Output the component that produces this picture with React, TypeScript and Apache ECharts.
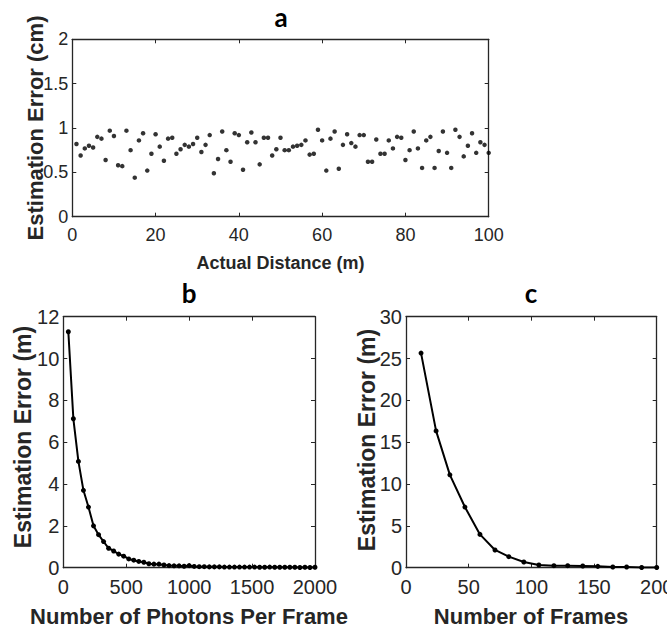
import React, { useEffect, useRef } from "react";
import * as echarts from "echarts";

// Panel a: estimation error (cm) vs actual distance (m)
const distances = [
  1, 2, 3, 4, 5, 6, 7, 8, 9, 10, 11, 12, 13, 14, 15, 16, 17, 18, 19, 20,
  21, 22, 23, 24, 25, 26, 27, 28, 29, 30, 31, 32, 33, 34, 35, 36, 37, 38, 39, 40,
  41, 42, 43, 44, 45, 46, 47, 48, 49, 50, 51, 52, 53, 54, 55, 56, 57, 58, 59, 60,
  61, 62, 63, 64, 65, 66, 67, 68, 69, 70, 71, 72, 73, 74, 75, 76, 77, 78, 79, 80,
  81, 82, 83, 84, 85, 86, 87, 88, 89, 90, 91, 92, 93, 94, 95, 96, 97, 98, 99, 100,
];
const errorsCm = [
  0.82, 0.69, 0.77, 0.8, 0.78, 0.9, 0.88, 0.64, 0.97, 0.91,
  0.58, 0.57, 0.97, 0.75, 0.44, 0.86, 0.94, 0.52, 0.71, 0.93,
  0.79, 0.63, 0.88, 0.89, 0.71, 0.76, 0.81, 0.79, 0.82, 0.89,
  0.73, 0.81, 0.92, 0.49, 0.65, 0.96, 0.75, 0.62, 0.94, 0.92,
  0.53, 0.84, 0.95, 0.84, 0.59, 0.89, 0.89, 0.69, 0.76, 0.89,
  0.75, 0.75, 0.79, 0.8, 0.81, 0.86, 0.7, 0.71, 0.98, 0.86,
  0.52, 0.88, 0.96, 0.54, 0.81, 0.93, 0.83, 0.79, 0.92, 0.92,
  0.62, 0.62, 0.87, 0.71, 0.71, 0.86, 0.77, 0.9, 0.89, 0.64,
  0.75, 0.96, 0.77, 0.55, 0.86, 0.9, 0.55, 0.74, 0.96, 0.72,
  0.55, 0.98, 0.9, 0.68, 0.8, 0.94, 0.72, 0.84, 0.81, 0.72,
];

// Panel b: estimation error (m) vs photons per frame
const photons = [
  40, 80, 120, 160, 200, 240, 280, 320, 360, 400,
  440, 480, 520, 560, 600, 640, 680, 720, 760, 800,
  840, 880, 920, 960, 1000, 1040, 1080, 1120, 1160, 1200,
  1240, 1280, 1320, 1360, 1400, 1440, 1480, 1520, 1560, 1600,
  1640, 1680, 1720, 1760, 1800, 1840, 1880, 1920, 1960, 2000,
];
const errorsPhotons = [
  11.28, 7.12, 5.08, 3.7, 2.9, 2.0, 1.58, 1.25, 0.93, 0.8,
  0.65, 0.55, 0.42, 0.36, 0.3, 0.26, 0.19, 0.17, 0.17, 0.13,
  0.1, 0.09, 0.09, 0.07, 0.1, 0.06, 0.05, 0.05, 0.04, 0.04,
  0.04, 0.03, 0.03, 0.03, 0.03, 0.03, 0.03, 0.03, 0.02, 0.02,
  0.03, 0.02, 0.02, 0.02, 0.02, 0.02, 0.01, 0.02, 0.01, 0.02,
];

// Panel c: estimation error (m) vs number of frames
const frames = [12, 24, 35, 47, 59, 71, 82, 94, 106, 118, 129, 141, 153, 165, 176, 188, 200];
const errorsFrames = [
  25.65, 16.35, 11.1, 7.25, 3.98, 2.12, 1.32, 0.68, 0.32, 0.24,
  0.24, 0.2, 0.16, 0.08, 0.08, 0.02, 0.02,
];

const panelTitles = ["a", "b", "c"];
const xTitles = ["Actual Distance (m)", "Number of Photons Per Frame", "Number of Frames"];
const yTitles = ["Estimation Error (cm)", "Estimation Error (m)", "Estimation Error (m)"];

const AX = "#262626";
const TICK_FONT = "'Liberation Sans', Arial, Helvetica, sans-serif";
const BOLD_FONT = "'Liberation Sans', Arial, Helvetica, sans-serif";

function makeAxes(
  kind: "x" | "y",
  grid: number,
  min: number,
  max: number,
  interval: number,
  fontSize: number,
  margin: number
) {
  const common = {
    type: "value",
    gridIndex: grid,
    min,
    max,
    interval,
    axisLine: { show: true, onZero: false, lineStyle: { color: AX, width: 1.3 } },
    axisTick: { show: true, inside: true, length: 4, lineStyle: { color: AX, width: 1 } },
    splitLine: { show: false },
  };
  return [
    {
      ...common,
      position: kind === "x" ? "bottom" : "left",
      axisLabel: {
        show: true,
        color: AX,
        fontSize,
        fontFamily: TICK_FONT,
        margin,
        formatter: (v: number) => String(v),
      },
    },
    {
      ...common,
      position: kind === "x" ? "top" : "right",
      axisLabel: { show: false },
    },
  ];
}

export default function App() {
  const ref = useRef<HTMLDivElement>(null);
  useEffect(() => {
    document.body.style.margin = "0";
    if (!ref.current) return;
    const chart = echarts.init(ref.current, null, { renderer: "svg" });

    const grids = [
      { left: 72.3, top: 39.3, width: 416.4, height: 177.4, outerBoundsMode: "none", containLabel: false },
      { left: 63.3, top: 316.7, width: 251.7, height: 251, outerBoundsMode: "none", containLabel: false },
      { left: 406, top: 316.7, width: 250.7, height: 251, outerBoundsMode: "none", containLabel: false },
    ];

    const xAxis = [
      ...makeAxes("x", 0, 0, 100, 20, 18, 9),
      ...makeAxes("x", 1, 0, 2000, 500, 20, 9),
      ...makeAxes("x", 2, 0, 200, 50, 20, 9),
    ];
    const yAxis = [
      ...makeAxes("y", 0, 0, 2, 0.5, 18, 4),
      ...makeAxes("y", 1, 0, 12, 2, 20, 4),
      ...makeAxes("y", 2, 0, 30, 5, 20, 4),
    ];

    const titleFont = "bold 26px Lato, 'Open Sans', sans-serif";
    const xTitleFonts = ["bold 18px " + BOLD_FONT, "bold 22px " + BOLD_FONT, "bold 22px " + BOLD_FONT];
    const yTitleFonts = ["bold 22px " + BOLD_FONT, "bold 23px " + BOLD_FONT, "bold 23px " + BOLD_FONT];
    const titlePos = [
      [281, 17],
      [189, 293],
      [531, 293],
    ];
    const xTitlePos = [
      [280.5, 263],
      [189, 616],
      [531, 616],
    ];
    const yTitlePos = [
      [35, 128],
      [23, 437],
      [367, 440],
    ];

    const graphic: any[] = [];
    for (let i = 0; i < 3; i++) {
      graphic.push({
        type: "text",
        x: titlePos[i][0],
        y: titlePos[i][1],
        style: { text: panelTitles[i], font: titleFont, fill: "#000", align: "center", verticalAlign: "middle" },
      });
      graphic.push({
        type: "text",
        x: xTitlePos[i][0],
        y: xTitlePos[i][1],
        style: { text: xTitles[i], font: xTitleFonts[i], fill: AX, align: "center", verticalAlign: "middle" },
      });
      graphic.push({
        type: "text",
        x: yTitlePos[i][0],
        y: yTitlePos[i][1],
        rotation: Math.PI / 2,
        style: { text: yTitles[i], font: yTitleFonts[i], fill: AX, align: "center", verticalAlign: "middle" },
      });
    }

    chart.setOption({
      animation: false,
      backgroundColor: "#fff",
      grid: grids,
      xAxis,
      yAxis,
      graphic,
      series: [
        {
          type: "scatter",
          xAxisIndex: 0,
          yAxisIndex: 0,
          data: distances.map((d, i) => [d, errorsCm[i]]),
          symbol: "circle",
          symbolSize: 4.5,
          itemStyle: { color: "#000" },
        },
        {
          type: "line",
          xAxisIndex: 2,
          yAxisIndex: 2,
          data: photons.map((p, i) => [p, errorsPhotons[i]]),
          symbol: "circle",
          symbolSize: 5,
          showAllSymbol: true,
          lineStyle: { color: "#000", width: 2 },
          itemStyle: { color: "#000" },
        },
        {
          type: "line",
          xAxisIndex: 4,
          yAxisIndex: 4,
          data: frames.map((f, i) => [f, errorsFrames[i]]),
          symbol: "circle",
          symbolSize: 5,
          showAllSymbol: true,
          lineStyle: { color: "#000", width: 2 },
          itemStyle: { color: "#000" },
        },
      ],
    });
    return () => chart.dispose();
  }, []);
  return <div ref={ref} style={{ width: 667, height: 630 }} />;
}
